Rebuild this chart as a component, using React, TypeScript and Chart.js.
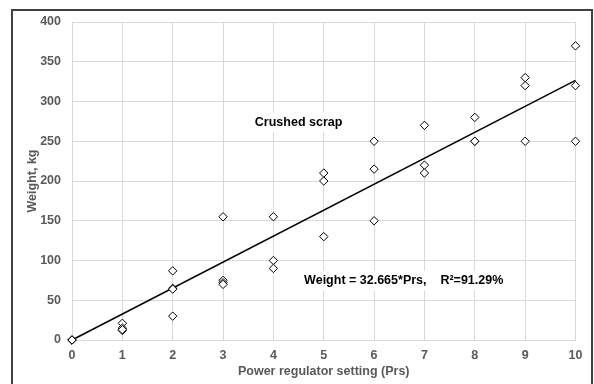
import React, { useEffect, useRef } from "react";
import { Chart, registerables } from "chart.js";

Chart.register(...registerables);

const prsValues = [0, 0, 0, 1, 1, 1, 1, 2, 2, 2, 2, 3, 3, 3, 3, 4, 4, 4, 5, 5, 5, 6, 6, 6, 7, 7, 7, 8, 8, 8, 9, 9, 9, 10, 10, 10];
const weightValues = [0, 0, 0, 21, 15, 12, 13, 87, 65, 64, 30, 155, 75, 72, 70, 155, 100, 90, 210, 200, 130, 250, 215, 150, 270, 220, 210, 280, 250, 250, 330, 320, 250, 370, 320, 250];
const slope = 32.665;
const fitX = [0, 10];
const xTicks = { min: 0, max: 10, step: 1 };
const yTicks = { min: 0, max: 400, step: 50 };
const seriesLabel = "Crushed scrap";
const equationLabel = "Weight = 32.665*Prs,    R\u00B2=91.29%";
const xTitle = "Power regulator setting (Prs)";
const yTitle = "Weight, kg";

const FONT = "'Liberation Sans', Arial, sans-serif";

export default function App() {
  const ref = useRef<HTMLCanvasElement | null>(null);
  useEffect(() => {
    if (!ref.current) return;
    const annot = {
      id: "annot",
      beforeDatasetsDraw(chart: any) {
        const { ctx, scales } = chart;
        const xs = scales.x, ys = scales.y;
        ctx.save();
        ctx.font = `bold 12.5px ${FONT}`;
        ctx.textBaseline = "middle";
        const t1 = seriesLabel;
        const w1 = ctx.measureText(t1).width;
        const cx1 = xs.getPixelForValue(4.5);
        const cy1 = ys.getPixelForValue(274);
        ctx.fillStyle = "#ffffff";
        ctx.fillRect(cx1 - w1 / 2 - 4, cy1 - 10, w1 + 8, 20);
        ctx.fillStyle = "#000000";
        ctx.textAlign = "center";
        ctx.fillText(t1, cx1, cy1);
        const t2 = equationLabel;
        const w2 = ctx.measureText(t2).width;
        const x2 = xs.getPixelForValue(4.61);
        const y2 = ys.getPixelForValue(74.5);
        ctx.fillStyle = "#ffffff";
        ctx.fillRect(x2 - 4, y2 - 10, w2 + 8, 20);
        ctx.fillStyle = "#000000";
        ctx.textAlign = "left";
        ctx.fillText(t2, x2, y2);
        ctx.restore();
      },
      afterDraw(chart: any) {
        const { ctx } = chart;
        ctx.save();
        ctx.strokeStyle = "#404040";
        ctx.lineWidth = 2;
        ctx.strokeRect(12, 10, 580, 400);
        ctx.restore();
      },
    };
    const chart = new Chart(ref.current, {
      type: "scatter",
      data: {
        datasets: [
          {
            type: "line",
            label: "fit",
            data: fitX.map((x) => ({ x, y: slope * x })),
            borderColor: "#000000",
            borderWidth: 1.5,
            pointRadius: 0,
            fill: false,
            clip: false,
            order: 2,
          } as any,
          {
            label: seriesLabel,
            data: prsValues.map((x, i) => ({ x, y: weightValues[i] })),
            pointStyle: "rectRot",
            pointRadius: 4.2,
            pointBackgroundColor: "#ffffff",
            pointBorderColor: "#000000",
            pointBorderWidth: 1,
            clip: false,
            order: 1,
          } as any,
        ],
      },
      options: {
        responsive: false,
        animation: false,
        layout: { padding: { left: 0, top: 22, right: 18.5, bottom: 0 } },
        plugins: { legend: { display: false }, tooltip: { enabled: false } },
        scales: {
          x: {
            type: "linear",
            min: xTicks.min,
            max: xTicks.max,
            afterFit: (s: any) => { s.height = 44; },
            ticks: {
              stepSize: xTicks.step,
              color: "#595959",
              padding: 8,
              font: { family: FONT, size: 12.5, weight: "bold" },
            },
            grid: { color: "#d9d9d9", drawTicks: false, lineWidth: 1 },
            border: { color: "#d9d9d9" },
            title: {
              display: true,
              text: xTitle,
              color: "#595959",
              font: { family: FONT, size: 12.5, weight: "bold" },
              padding: { top: 0, bottom: 4.5 },
            },
          },
          y: {
            type: "linear",
            min: yTicks.min,
            max: yTicks.max,
            afterFit: (s: any) => { s.width = 72; },
            ticks: {
              stepSize: yTicks.step,
              color: "#595959",
              padding: 11,
              font: { family: FONT, size: 12.5, weight: "bold" },
            },
            grid: { color: "#d9d9d9", drawTicks: false, lineWidth: 1 },
            border: { color: "#d9d9d9" },
            title: {
              display: true,
              text: yTitle,
              color: "#595959",
              font: { family: FONT, size: 12.5, weight: "bold" },
              padding: { top: 25.5, bottom: 0 },
            },
          },
        },
      },
      plugins: [annot],
    });
    return () => chart.destroy();
  }, []);
  return (
    <div style={{ position: "absolute", left: 0, top: 0, width: 594, height: 384, background: "#ffffff" }}>
      <canvas ref={ref} width={594} height={384} style={{ display: "block" }} />
    </div>
  );
}
